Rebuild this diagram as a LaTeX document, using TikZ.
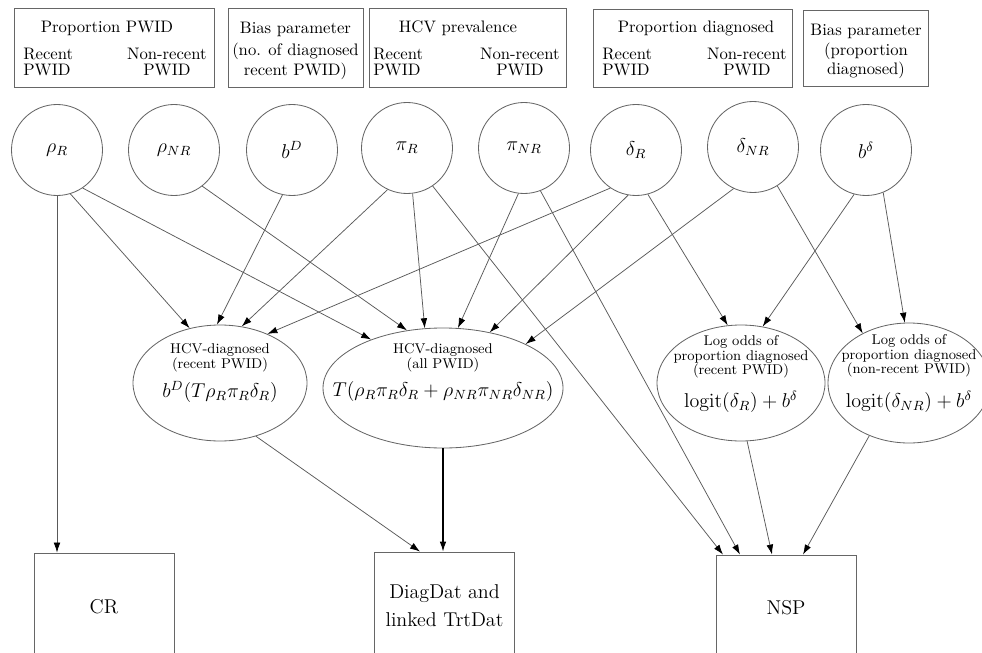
\documentclass[tikz,border=0pt]{standalone}
\usetikzlibrary{shapes.geometric,arrows.meta}
\begin{document}
\begin{tikzpicture}[x=0.6pt,y=-0.6pt,
 circ/.style={circle, draw=black!60, line width=0.5pt, minimum size=54.6pt, inner sep=0pt, font=\large},
 ell/.style={ellipse, draw=black!60, line width=0.5pt, inner sep=0pt},
 pbox/.style={rectangle, draw=black!60, line width=0.5pt, inner sep=0pt},
 dbox/.style={rectangle, draw=black!60, line width=0.5pt, inner sep=0pt, minimum width=84pt, minimum height=64.8pt, align=center, font=\fontsize{12}{16.8}\selectfont},
 smalltxt/.style={font=\fontsize{8.5}{8.8}\selectfont, align=center, inner sep=0pt},
 bigtxt/.style={font=\large, inner sep=0pt},
 txt/.style={inner sep=0pt, anchor=base},
 txtl/.style={inner sep=0pt, anchor=base west},
 txtr/.style={inner sep=0pt, anchor=base east},
 arr/.style={draw=black!65, line width=0.45pt, -{Latex[length=6pt,width=4pt,color=black]}},
]
\useasboundingbox (0,0) rectangle (982,652);

% top boxes
\node[pbox, minimum width=120pt, minimum height=47.4pt] (B1) at (114,47.5) {};
\node[txt] (B1t) at (107,33) {Proportion PWID};
\node[txtl] (B1a) at (23,60) {Recent};
\node[txtl] (B1b) at (23,76) {PWID};
\node[txtr] (B1c) at (207,60) {Non-recent};
\node[txt] (B1d) at (167,76) {PWID};

\node[pbox, minimum width=81pt, minimum height=47.4pt] (B2) at (295.5,47.5) {};
\node[txt] (B2a) at (295.5,34) {Bias parameter};
\node[txt] (B2b) at (295.5,55.5) {(no. of diagnosed};
\node[txt] (B2c) at (295.5,76) {recent PWID)};

\node[pbox, minimum width=118.2pt, minimum height=47.4pt] (B3) at (467.5,47.5) {};
\node[txt] (B3t) at (458,33) {HCV prevalence};
\node[txtl] (B3a) at (373,60) {Recent};
\node[txtl] (B3b) at (373,76) {PWID};
\node[txtr] (B3c) at (560,60) {Non-recent};
\node[txt] (B3d) at (520,76) {PWID};

\node[pbox, minimum width=119.4pt, minimum height=46.8pt] (B4) at (692.5,48) {};
\node[txt] (B4t) at (696,33) {Proportion diagnosed};
\node[txtl] (B4a) at (602,60) {Recent};
\node[txtl] (B4b) at (602,76) {PWID};
\node[txtr] (B4c) at (787,60) {Non-recent};
\node[txt] (B4d) at (747,76) {PWID};

\node[pbox, minimum width=75pt, minimum height=45.6pt] (B5) at (865.5,48) {};
\node[txt] (B5a) at (866,36) {Bias parameter};
\node[txt] (B5b) at (866,56) {(proportion};
\node[txt] (B5c) at (866,75) {diagnosed)};

% parameter circles
\node[circ] (rhoR) at (57,150) {$\rho_R$};
\node[circ] (rhoNR) at (174,150) {$\rho_{NR}$};
\node[circ] (bD) at (292,150) {$b^D$};
\node[circ] (piR) at (407,148) {$\pi_R$};
\node[circ] (piNR) at (524,148) {$\pi_{NR}$};
\node[circ] (dR) at (636,150) {$\delta_R$};
\node[circ] (dNR) at (753,147) {$\delta_{NR}$};
\node[circ] (bd) at (866,150) {$b^\delta$};

% ellipses
\node[ell, minimum width=104.4pt, minimum height=69.6pt] (E1) at (220,383) {};
\node[smalltxt] (E1t) at (220,357.5) {HCV-diagnosed\\(recent PWID)};
\node[bigtxt] (E1f) at (220,392) {$b^D(T\rho_R\pi_R\delta_R)$};

\node[ell, minimum width=144pt, minimum height=72pt] (E2) at (443,388) {};
\node[smalltxt] (E2t) at (443,357.5) {HCV-diagnosed\\(all PWID)};
\node[bigtxt] (E2f) at (443,391) {$T(\rho_R\pi_R\delta_R+\rho_{NR}\pi_{NR}\delta_{NR})$};

\node[ell, minimum width=100.8pt, minimum height=69.6pt] (E3) at (741,383) {};
\node[smalltxt] (E3t) at (741,357) {Log odds of\\proportion diagnosed\\(recent PWID)};
\node[bigtxt] (E3f) at (741,402) {$\mathrm{logit}(\delta_R)+b^\delta$};

\node[ell, minimum width=97.2pt, minimum height=72pt] (E4) at (909,383) {};
\node[smalltxt] (E4t) at (909,356) {Log odds of\\proportion diagnosed\\(non-recent PWID)};
\node[bigtxt] (E4f) at (909,402) {$\mathrm{logit}(\delta_{NR})+b^\delta$};

% data boxes
\node[dbox] (CR) at (104,607) {CR};
\node[dbox] (DD) at (444.5,606) {DiagDat and\\linked TrtDat};
\node[dbox, minimum height=63.6pt] (NSP) at (786,608) {NSP};

% connectors
\draw[arr] (rhoR.-90) -- (rhoR.-90 |- CR.north);
\draw[arr] (rhoR.-73) -- (E1.119);
\draw[arr] (rhoR.-56) -- (E2.146);
\draw[arr] (rhoNR.-52) -- (E2.122);
\draw[arr] (bD.-102) -- (E1.93);
\draw[arr] (piR.-115) -- (E1.69);
\draw[arr] (piR.-83) -- (E2.107);
\draw[arr] (piR.-56) -- ([xshift=-37.8pt]NSP.north);
\draw[arr] (piNR.-97) -- (E2.76);
\draw[arr] (piNR.-69) -- ([xshift=-27.6pt]NSP.north);
\draw[arr] (dR.-124) -- (E1.46);
\draw[arr] (dR.-100) -- (E2.50);
\draw[arr] (dR.-75) -- (E3.103);
\draw[arr] (dNR.-115) -- (E2.28);
\draw[arr] (dNR.-58) -- (E4.133);
\draw[arr] (bd.-105) -- (E3.69);
\draw[arr] (bd.-68) -- (E4.94);
\draw[arr] (E1.-56) -- ([xshift=-14.7pt]DD.north);
\draw[arr, draw=black, line width=0.7pt] (E2.south) -- (E2.south |- DD.north);
\draw[arr] (E3.-84) -- ([xshift=-8.4pt]NSP.north);
\draw[arr] (E4.-127) -- ([xshift=10.2pt]NSP.north);
\end{tikzpicture}
\end{document}
